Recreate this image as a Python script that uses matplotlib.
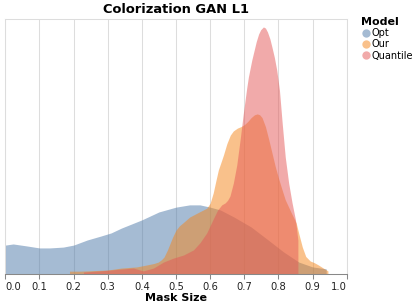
import matplotlib
matplotlib.use("Agg")
import matplotlib.pyplot as plt
from matplotlib.lines import Line2D

title = "Colorization GAN L1"
x_label = "Mask Size"
legend_title = "Model"
models = ["Opt", "Our", "Quantile"]
colors = ["#4c78a8", "#f58518", "#e45756"]
x_ticks = [0.0, 0.1, 0.2, 0.3, 0.4, 0.5, 0.6, 0.7, 0.8, 0.9, 1.0]

# density estimates (arbitrary density units)
opt_x = [0.0, 0.023, 0.063, 0.10, 0.13, 0.17, 0.20, 0.24, 0.28, 0.31, 0.34, 0.40, 0.45, 0.50,
         0.54, 0.57, 0.60, 0.63, 0.67, 0.72, 0.77, 0.815, 0.86, 0.90, 0.94]
opt_y = [1.02, 1.06, 0.99, 0.92, 0.92, 0.95, 1.02, 1.20, 1.34, 1.45, 1.62, 1.91, 2.19, 2.36,
         2.44, 2.44, 2.36, 2.26, 2.01, 1.66, 1.20, 0.78, 0.42, 0.25, 0.18]

our_x = [0.188, 0.22, 0.26, 0.30, 0.34, 0.385, 0.415, 0.435, 0.448, 0.457, 0.465, 0.475, 0.483,
         0.49, 0.50, 0.51, 0.52, 0.54, 0.57, 0.59, 0.60, 0.609, 0.617, 0.624, 0.632, 0.639,
         0.649, 0.659, 0.668, 0.68, 0.69, 0.70, 0.71, 0.72, 0.73, 0.738, 0.745, 0.752, 0.762,
         0.772, 0.781, 0.791, 0.801, 0.811, 0.820, 0.830, 0.838, 0.845, 0.852, 0.860, 0.870,
         0.880, 0.893, 0.905, 0.917, 0.930, 0.945]
our_y = [0.10, 0.10, 0.12, 0.14, 0.21, 0.25, 0.32, 0.37, 0.42, 0.50, 0.60, 0.85, 1.09,
         1.30, 1.55, 1.70, 1.80, 2.01, 2.20, 2.32, 2.50, 2.86, 3.30, 3.67, 3.95, 4.20,
         4.60, 4.90, 5.05, 5.15, 5.20, 5.27, 5.38, 5.52, 5.62, 5.65, 5.62, 5.52, 5.20,
         4.73, 4.28, 3.78, 3.35, 2.96, 2.62, 2.36, 2.15, 1.98, 1.80, 1.41, 0.95,
         0.62, 0.46, 0.40, 0.32, 0.22, 0.11]

quant_x = [0.229, 0.277, 0.307, 0.346, 0.375, 0.404, 0.434, 0.463, 0.492, 0.522, 0.551, 0.570,
           0.590, 0.609, 0.622, 0.634, 0.644, 0.651, 0.658, 0.668, 0.678, 0.688, 0.697, 0.702,
           0.707, 0.712, 0.717, 0.722, 0.727, 0.735, 0.742, 0.748, 0.756, 0.762, 0.768, 0.775,
           0.781, 0.788, 0.795, 0.803, 0.811, 0.820, 0.830, 0.840, 0.850, 0.857, 0.8571]
quant_y = [0.07, 0.11, 0.14, 0.18, 0.21, 0.11, 0.21, 0.42, 0.56, 0.67, 0.85, 1.10,
           1.45, 1.94, 2.26, 2.44, 2.51, 2.60, 2.75, 3.21, 3.85, 4.76, 5.65, 6.10,
           6.55, 6.95, 7.25, 7.55, 7.80, 8.20, 8.47, 8.62, 8.72, 8.68, 8.54, 8.30,
           8.01, 7.65, 7.20, 6.49, 5.33, 4.13, 3.21, 2.51, 1.91, 1.20, 0.0]

series = [(opt_x, opt_y), (our_x, our_y), (quant_x, quant_y)]

plt.rcParams['font.family'] = ['DejaVu Sans']
W, H = 415, 306
fig = plt.figure(figsize=(W / 100, H / 100), dpi=100)
x0, x1, y0, y1 = 5.3, 346.7, 19, 274
ax = fig.add_axes([x0 / W, 1 - y1 / H, (x1 - x0) / W, (y1 - y0) / H])

for (xs, ys), c in zip(series, colors):
    ax.fill_between(xs, ys, 0, color=c, alpha=0.5, linewidth=0)

ax.set_xlim(0, 1)
ax.set_ylim(0, 9)
ax.set_xticks(x_ticks)
ax.set_xticklabels([f"{t:.1f}" for t in x_ticks], fontsize=7.2, color="#222")
labels = ax.get_xticklabels()
labels[0].set_horizontalalignment("left")
labels[-1].set_horizontalalignment("right")
ax.set_yticks([])
ax.grid(axis="x", color="#dddddd", linewidth=0.75)
ax.set_axisbelow(True)
for s in ["top", "left", "right"]:
    ax.spines[s].set_color("#dddddd")
    ax.spines[s].set_linewidth(0.75)
ax.spines["bottom"].set_color("#888888")
ax.spines["bottom"].set_linewidth(0.75)
ax.tick_params(axis="x", length=3.6, width=0.75, color="#888888", pad=2)
ax.set_xlabel(x_label, fontsize=8, fontweight="bold", labelpad=1)
ax.set_title(title, fontsize=9.4, fontweight="bold", pad=4)

handles = [Line2D([], [], marker="o", linestyle="none", markersize=6,
                  markerfacecolor=c, markeredgecolor="none", alpha=0.5) for c in colors]
leg = ax.legend(handles, models, title=legend_title, loc="upper left",
                bbox_to_anchor=(361 / W, 1 - 17 / H), bbox_transform=fig.transFigure,
                frameon=False, fontsize=7.0, handletextpad=0.05, labelspacing=0.12,
                borderaxespad=0, borderpad=0, handlelength=1.0, alignment="left")
leg.get_title().set_fontweight("bold")
leg.get_title().set_fontsize(8)

fig.savefig("out.png", dpi=100)
